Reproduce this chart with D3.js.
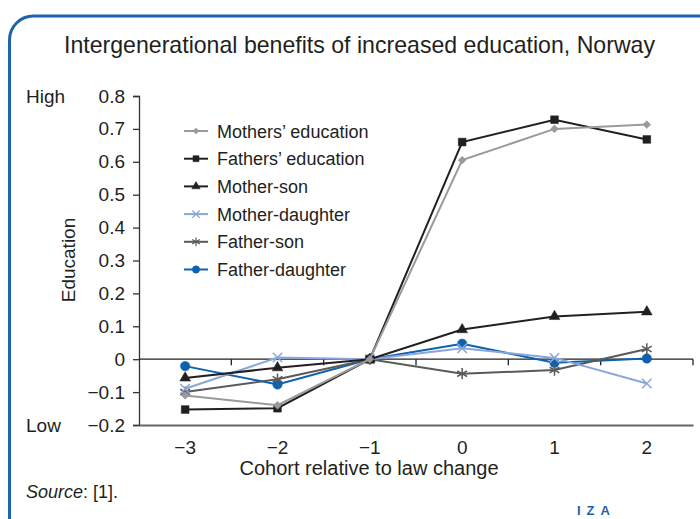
<!DOCTYPE html>
<html>
<head>
<meta charset="utf-8">
<script src="https://cdn.jsdelivr.net/npm/d3@7"></script>
<style>
  body { margin: 0; background: #fff; }
  svg text { font-family: "Liberation Sans", Arial, sans-serif; fill: #231f20; }
</style>
</head>
<body>
<div id="chart"></div>
<script>
// cohorts relative to the law change
const cohorts = [-3, -2, -1, 0, 1, 2];
const yTicks = [-0.2, -0.1, 0, 0.1, 0.2, 0.3, 0.4, 0.5, 0.6, 0.7, 0.8];

const mothersEdu   = [-0.11, -0.14, 0, 0.605, 0.70, 0.713];
const fathersEdu   = [-0.153, -0.149, 0, 0.66, 0.728, 0.668];
const motherSon    = [-0.057, -0.026, 0, 0.09, 0.13, 0.144];
const motherDau    = [-0.09, 0.005, 0, 0.033, 0.004, -0.074];
const fatherSon    = [-0.10, -0.061, 0, -0.044, -0.033, 0.031];
const fatherDau    = [-0.021, -0.077, 0, 0.047, -0.011, 0.002];

const seriesNames = ["Mothers\u2019 education", "Fathers\u2019 education", "Mother-son", "Mother-daughter", "Father-son", "Father-daughter"];
const seriesVals = [mothersEdu, fathersEdu, motherSon, motherDau, fatherSon, fatherDau];
const colors = ["#9a9a9a", "#231f20", "#231f20", "#8aa6da", "#5a5a5a", "#0d62b0"];
const symbols = [d3.symbolDiamond2, d3.symbolSquare, d3.symbolTriangle, d3.symbolX, d3.symbolAsterisk, d3.symbolCircle];
const symSizes = [40, 60, 50, 60, 90, 70];
const filled = [true, true, true, false, false, true];

const series = seriesNames.map((name, i) => ({name, values: seriesVals[i], color: colors[i], sym: symbols[i], size: symSizes[i], fill: filled[i]}));

const W = 700, H = 519;
const svg = d3.select("#chart").append("svg").attr("width", W).attr("height", H);

// frame
svg.append("rect")
    .attr("x", 9.5).attr("y", 16).attr("width", 740).attr("height", 540)
    .attr("rx", 24).attr("ry", 24)
    .attr("fill", "none").attr("stroke", "#1f63ad").attr("stroke-width", 3);

svg.append("text")
    .attr("x", 64).attr("y", 53)
    .attr("textLength", 591).attr("lengthAdjust", "spacingAndGlyphs")
    .style("font-size", "24px")
    .text("Intergenerational benefits of increased education, Norway");

const x = d3.scaleBand(cohorts, [139, 693]).paddingInner(0).paddingOuter(0);
const y = d3.scaleLinear([-0.2, 0.8], [425, 96]);
const cx = c => x(c) + x.bandwidth() / 2;

// y axis
svg.append("g")
    .attr("transform", "translate(139,0)")
    .call(d3.axisLeft(y).tickValues(yTicks).tickSize(6).tickPadding(8)
        .tickFormat(d => d === 0 ? "0" : d3.format(".1f")(d).replace("-", "\u2212")))
    .call(g => g.select(".domain").attr("stroke", "#333").attr("stroke-width", 1.3))
    .call(g => g.selectAll(".tick line").attr("stroke", "#333").attr("stroke-width", 1.3))
    .call(g => g.selectAll(".tick text").style("font-size", "19px").attr("fill", "#231f20"));

// bottom axis (labels)
svg.append("g")
    .attr("transform", "translate(0,425)")
    .call(d3.axisBottom(x).tickSize(0).tickPadding(16)
        .tickFormat(d => String(d).replace("-", "\u2212")))
    .call(g => g.select(".domain").attr("stroke", "#666").attr("stroke-width", 2))
    .call(g => g.selectAll(".tick text").style("font-size", "19px").attr("fill", "#231f20"));

// zero line with band-boundary ticks
svg.append("line")
    .attr("x1", 139).attr("x2", 693).attr("y1", y(0)).attr("y2", y(0))
    .attr("stroke", "#231f20").attr("stroke-width", 1.3);
svg.append("g").selectAll("line")
    .data(cohorts)
    .join("line")
    .attr("x1", d => x(d) + x.bandwidth()).attr("x2", d => x(d) + x.bandwidth())
    .attr("y1", y(0)).attr("y2", y(0) + 6)
    .attr("stroke", "#231f20").attr("stroke-width", 1.3);

// axis titles
svg.append("text")
    .attr("transform", "translate(75,260) rotate(-90)")
    .attr("text-anchor", "middle")
    .style("font-size", "19px")
    .text("Education");
svg.append("text").attr("x", 26).attr("y", y(0.8) + 7).style("font-size", "19px").text("High");
svg.append("text").attr("x", 26).attr("y", y(-0.2) + 7).style("font-size", "19px").text("Low");

svg.append("text")
    .attr("x", 369).attr("y", 475)
    .attr("text-anchor", "middle")
    .style("font-size", "20px")
    .text("Cohort relative to law change");

const src = svg.append("text").attr("x", 26).attr("y", 498).style("font-size", "18px");
src.append("tspan").style("font-style", "italic").text("Source");
src.append("tspan").text(": [1].");

svg.append("text")
    .attr("x", 577).attr("y", 515)
    .style("font-size", "13px").style("font-weight", "bold")
    .style("letter-spacing", "6px")
    .style("fill", "#1f63ad")
    .text("IZA");

// lines
const line = d3.line().x((d, i) => cx(cohorts[i])).y(d => y(d));
const drawOrder = series.slice().reverse();

const sg = svg.append("g").selectAll("g")
    .data(drawOrder)
    .join("g");

sg.append("path")
    .attr("d", d => line(d.values))
    .attr("fill", "none")
    .attr("stroke", d => d.color)
    .attr("stroke-width", 2);

sg.each(function(s) {
    d3.select(this).selectAll("path.pt")
        .data(s.values)
        .join("path")
        .attr("class", "pt")
        .attr("transform", (v, i) => `translate(${cx(cohorts[i])},${y(v)})`)
        .attr("d", d3.symbol(s.sym, s.size))
        .attr("fill", s.fill ? s.color : "none")
        .attr("stroke", s.color)
        .attr("stroke-width", s.fill ? 0.5 : 1.5);
});

// legend
const lg = svg.append("g").selectAll("g")
    .data(series)
    .join("g")
    .attr("transform", (d, i) => `translate(184,${131 + i * 27.7})`);

lg.append("line")
    .attr("x1", 0).attr("x2", 24)
    .attr("stroke", d => d.color).attr("stroke-width", 2);
lg.append("path")
    .attr("transform", "translate(12,0)")
    .attr("d", d => d3.symbol(d.sym, d.size * 0.6)())
    .attr("fill", d => d.fill ? d.color : "none")
    .attr("stroke", d => d.color)
    .attr("stroke-width", d => d.fill ? 0.5 : 1.2);
lg.append("text")
    .attr("x", 33).attr("y", 6.5)
    .style("font-size", "18px")
    .text(d => d.name);
</script>
</body>
</html>
